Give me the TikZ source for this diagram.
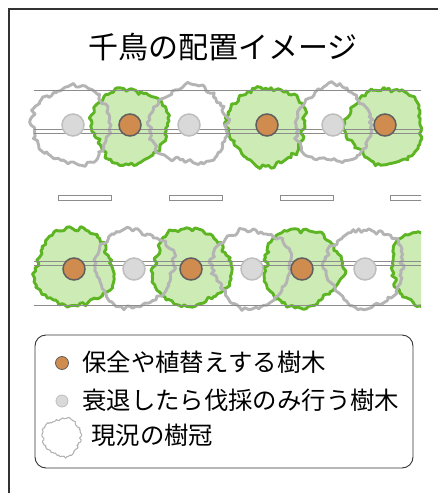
\documentclass[tikz,border=0pt]{standalone}
\usepackage{fontspec}
\setmainfont{Noto Sans CJK JP}

\definecolor{framec}{HTML}{333333}
\definecolor{railc}{HTML}{8C8C8C}
\definecolor{leafline}{HTML}{5DB523}
\definecolor{leaffill}{HTML}{CDEBB5}
\definecolor{oldline}{HTML}{B4B4B4}
\definecolor{keepfill}{HTML}{D08B4F}
\definecolor{keepline}{HTML}{5F5F5F}
\definecolor{cutfill}{HTML}{D9D9D9}
\definecolor{cutline}{HTML}{BEBEBE}

\tikzset{
  rail/.style={draw=railc, line width=1pt},
  greencrown/.style={draw=leafline, fill=leaffill, line width=2.9pt, line join=round},
  graycrown/.style={draw=oldline, line width=2.9pt, line join=round},
  keepdot/.style={circle, draw=keepline, fill=keepfill, line width=1.5pt, minimum size=22pt, inner sep=0pt},
  cutdot/.style={circle, draw=cutline, fill=cutfill, line width=1.5pt, minimum size=22pt, inner sep=0pt},
  curb/.style={draw=railc, fill=white, line width=1pt},
  legendbox/.style={draw=framec, line width=0.9pt, rounded corners=11pt},
  legtext/.style={anchor=west, inner sep=0pt, font=\fontsize{24.4}{28}\selectfont},
}

% irregular tree crown: style, x, y, radius, seed
% (the roughness scales with the radius)
\newcommand\treecrown[5]{%
  \pgfmathsetseed{#5}%
  \begin{scope}[shift={(#2,#3)}]
    \path[#1] plot[samples=90, domain=0:356]
      (\x:{#4+(#4/39)*(4*rnd-2+1.8*sin(3*\x+#5*47)+1.3*sin(5*\x+#5*23)+0.8*sin(17*\x+#5*11))}) -- cycle;
  \end{scope}%
}

\begin{document}
\begin{tikzpicture}[x=1pt, y=-1pt]
\useasboundingbox (0,0) rectangle (438,493);

% outer frame (continues beyond the right and bottom edges)
\draw[framec, line width=2pt] (438,9) -- (9,9) -- (9,493);

% title
\node[inner sep=0pt, font=\fontsize{30}{34}\selectfont] (title) at (223,47) {千鳥の配置イメージ};

% ---------- upper row ----------
\treecrown{greencrown}{130}{126}{38}{11}
\treecrown{greencrown}{267}{126}{39}{12}
\treecrown{greencrown}{385}{126}{38}{13}
\treecrown{graycrown}{72}{125}{39}{21}
\treecrown{graycrown}{189}{125}{39}{22}
\treecrown{graycrown}{333}{125}{38}{23}

\coordinate (uA) at (34,90.5);   \coordinate (uB) at (421,90.5);
\coordinate (uC) at (34,129.3);  \coordinate (uD) at (421,129.3);
\coordinate (uE) at (34,133.3);  \coordinate (uF) at (421,133.3);
\draw[rail] (uA) -- (uB);
\draw[rail] (uC) -- (uD);
\draw[rail] (uE) -- (uF);

\node[cutdot]  (u1) at (73,125)  {};
\node[keepdot] (u2) at (130,125) {};
\node[cutdot]  (u3) at (189,125) {};
\node[keepdot] (u4) at (267,125) {};
\node[cutdot]  (u5) at (333,125) {};
\node[keepdot] (u6) at (385,125) {};

% ---------- centre line marks ----------
\draw[curb] (58.5,195) rectangle (111.5,200);
\draw[curb] (169.5,195) rectangle (222.5,200);
\draw[curb] (280,195) rectangle (333,200);
\begin{scope}
  \clip (0,180) rectangle (421,210);
  \draw[curb] (390.5,195) rectangle (443.5,200);
\end{scope}

% ---------- lower row ----------
\begin{scope}
  \clip (0,215) rectangle (421,320);
  \treecrown{greencrown}{74}{268}{39}{31}
  \treecrown{greencrown}{191}{268}{39}{32}
  \treecrown{greencrown}{302}{268}{39}{33}
  \treecrown{greencrown}{430}{268}{39}{34}
  \treecrown{graycrown}{134}{268}{39}{41}
  \treecrown{graycrown}{252}{268}{39}{42}
  \treecrown{graycrown}{365}{268}{39}{43}
\end{scope}

\coordinate (lA) at (34,261.7);  \coordinate (lB) at (421,261.7);
\coordinate (lC) at (34,265.5);  \coordinate (lD) at (421,265.5);
\coordinate (lE) at (34,305);    \coordinate (lF) at (421,305);
\draw[rail] (lA) -- (lB);
\draw[rail] (lC) -- (lD);
\draw[rail] (lE) -- (lF);

\node[keepdot] (l1) at (74,269)  {};
\node[cutdot]  (l2) at (134,269) {};
\node[keepdot] (l3) at (191,269) {};
\node[cutdot]  (l4) at (252,269) {};
\node[keepdot] (l5) at (302,269) {};
\node[cutdot]  (l6) at (365,269) {};

% ---------- legend ----------
\draw[legendbox] (35,335) rectangle (413,468);
\node[keepdot, minimum size=13pt, line width=0.8pt] (k1) at (62,363) {};
\node[legtext] (t1) at (82,362) {保全や植替えする樹木};
\node[cutdot, minimum size=12pt, line width=0.8pt] (k2) at (62,401) {};
\node[legtext] (t2) at (82,400) {衰退したら伐採のみ行う樹木};
\treecrown{graycrown, line width=1.1pt}{62}{437}{19}{51}
\node[legtext] (t3) at (91,435) {現況の樹冠};

\end{tikzpicture}
\end{document}
